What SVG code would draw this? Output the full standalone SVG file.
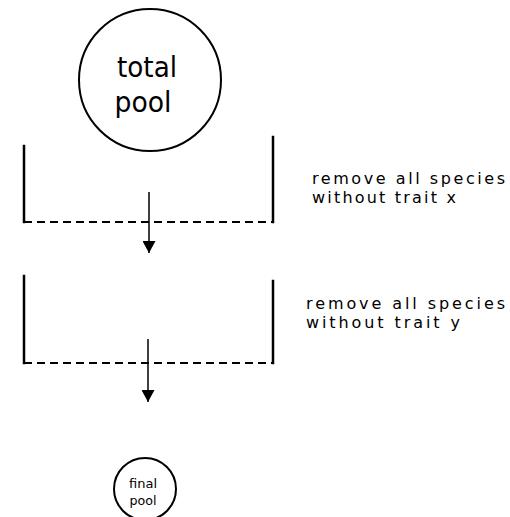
<svg xmlns="http://www.w3.org/2000/svg" width="510" height="517" viewBox="0 0 510 517">
<style>
.node{fill:#fff;stroke:#000;stroke-width:2}
.wall{fill:none;stroke:#000;stroke-width:2.5;stroke-linecap:square}
.sieve{fill:none;stroke:#000;stroke-width:2;stroke-dasharray:8 5}
.flow{fill:none;stroke:#000;stroke-width:1.5}
text{font-family:"DejaVu Sans","Liberation Sans",sans-serif;fill:#000}
.big{font-size:28px;text-anchor:middle}
.small{font-size:13px;text-anchor:middle}
.lbl{font-size:16px}
</style>
<defs>
<marker id="ah" markerWidth="13" markerHeight="13" refX="12" refY="6.5" orient="auto" markerUnits="userSpaceOnUse">
<path d="M0,0 L12,6.5 L0,13 Z" fill="#000"/>
</marker>
</defs>
<g id="total-pool">
<circle class="node" cx="150" cy="80" r="71"/>
<text class="big" x="147" y="77" textLength="60" lengthAdjust="spacingAndGlyphs">total</text>
<text class="big" x="143" y="112" textLength="57" lengthAdjust="spacingAndGlyphs">pool</text>
</g>
<g id="filter-x">
<path class="wall" d="M24,146 V222 M273,137 V222"/>
<path class="sieve" d="M24,222 H273"/>
<text class="lbl" x="312" y="184" textLength="193" lengthAdjust="spacing">remove all species</text>
<text class="lbl" x="312" y="203" textLength="144" lengthAdjust="spacing">without trait x</text>
</g>
<g id="filter-y">
<path class="wall" d="M24,276 V363 M273,281 V363"/>
<path class="sieve" d="M24,363 H273"/>
<text class="lbl" x="306" y="309" textLength="199" lengthAdjust="spacing">remove all species</text>
<text class="lbl" x="306" y="328" textLength="154" lengthAdjust="spacing">without trait y</text>
</g>
<g id="final-pool">
<circle class="node" cx="145" cy="489" r="31"/>
<text class="small" x="143" y="488" textLength="28" lengthAdjust="spacingAndGlyphs">final</text>
<text class="small" x="143" y="505" textLength="27" lengthAdjust="spacingAndGlyphs">pool</text>
</g>
<g id="connectors">
<path class="flow" d="M149,192 V253" marker-end="url(#ah)"/>
<path class="flow" d="M148,339 V402" marker-end="url(#ah)"/>
</g>
</svg>
